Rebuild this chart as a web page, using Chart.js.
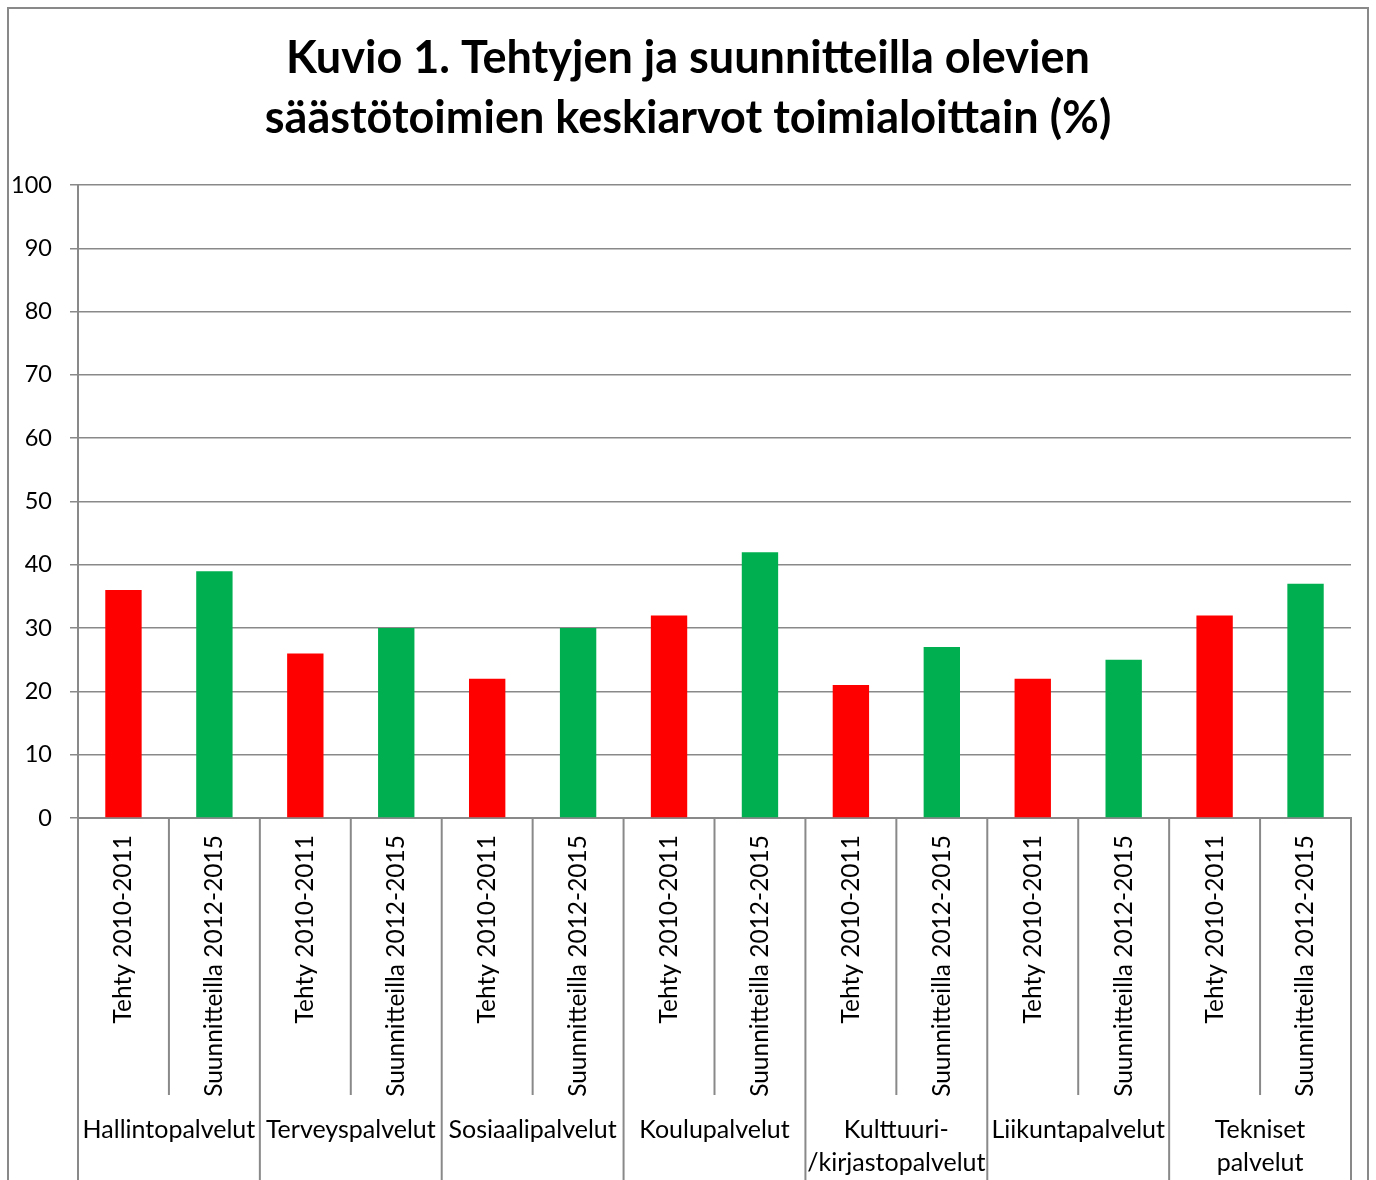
<!DOCTYPE html>
<html lang="fi">
<head>
<meta charset="utf-8">
<title>Kuvio 1</title>
<script src="https://cdn.jsdelivr.net/npm/chart.js@4"></script>
<style>
  html, body { margin: 0; padding: 0; background: #fff; }
  #wrap { width: 1376px; height: 1180px; position: relative; }
</style>
</head>
<body>
<div id="wrap"><canvas id="c" width="1376" height="1180"></canvas></div>
<script>
const titleLines = ['Kuvio 1. Tehtyjen ja suunnitteilla olevien', 'säästötoimien keskiarvot toimialoittain (%)'];
const periods = ['Tehty 2010-2011', 'Suunnitteilla 2012-2015'];
const groups = [
  ['Hallintopalvelut'],
  ['Terveyspalvelut'],
  ['Sosiaalipalvelut'],
  ['Koulupalvelut'],
  ['Kulttuuri-', '/kirjastopalvelut'],
  ['Liikuntapalvelut'],
  ['Tekniset', 'palvelut']
];
const tehty = [36, 26, 22, 32, 21, 22, 32];
const suunnitteilla = [39, 30, 30, 42, 27, 25, 37];
const yTicks = [0, 10, 20, 30, 40, 50, 60, 70, 80, 90, 100];

const labels = [];
const values = [];
const colors = [];
groups.forEach((g, i) => {
  labels.push(periods[0]); values.push(tehty[i]); colors.push('#FF0000');
  labels.push(periods[1]); values.push(suunnitteilla[i]); colors.push('#00B050');
});

const FONT = 'Lato, "Noto Sans", sans-serif';
const LINE = '#898989';

const framePlugin = {
  id: 'frame',
  afterLayout(chart) {
    // centre the title over the whole canvas, like the original
    if (chart.titleBlock) chart.titleBlock.right = chart.width;
  },
  beforeDraw(chart) {
    const ctx = chart.ctx;
    ctx.save();
    ctx.fillStyle = '#fff';
    ctx.fillRect(0, 0, chart.width, chart.height);
    ctx.strokeStyle = LINE;
    ctx.lineWidth = 2;
    ctx.strokeRect(8, 8, 1360, 1300);
    ctx.restore();
  }
};

const groupPlugin = {
  id: 'groupAxis',
  afterDraw(chart) {
    const ctx = chart.ctx;
    const x = chart.scales.x;
    const n = labels.length;
    const cw = (x.right - x.left) / n;
    const top = x.top;
    ctx.save();
    ctx.strokeStyle = LINE;
    ctx.lineWidth = 2;
    for (let k = 0; k <= n; k++) {
      const px = x.getPixelForValue(Math.min(k, n - 1)) + (k === n ? cw / 2 : -cw / 2);
      const bottom = (k % 2 === 0) ? chart.height : 1095;
      ctx.beginPath();
      ctx.moveTo(px, top);
      ctx.lineTo(px, bottom);
      ctx.stroke();
    }
    ctx.fillStyle = '#000';
    ctx.font = '25px ' + FONT;
    ctx.textAlign = 'center';
    ctx.textBaseline = 'middle';
    groups.forEach((g, i) => {
      const cx = (x.getPixelForValue(2 * i) + x.getPixelForValue(2 * i + 1)) / 2;
      g.forEach((line, j) => {
        ctx.fillText(line, cx, 1130 + j * 33);
      });
    });
    ctx.restore();
  }
};

new Chart(document.getElementById('c'), {
  type: 'bar',
  data: {
    labels: labels,
    datasets: [{
      data: values,
      backgroundColor: colors,
      borderWidth: 0,
      barPercentage: 0.4,
      categoryPercentage: 1.0
    }]
  },
  options: {
    responsive: false,
    animation: false,
    devicePixelRatio: 1,
    layout: { padding: { left: 0, right: 25, top: 0, bottom: 0 } },
    plugins: {
      legend: { display: false },
      tooltip: { enabled: false },
      title: {
        display: true,
        text: titleLines,
        color: '#000',
        font: { family: FONT, size: 45, weight: 'bold', lineHeight: 1.3333 },
        padding: { top: 28, bottom: 37 }
      }
    },
    scales: {
      x: {
        grid: { display: false },
        border: { display: true, color: LINE, width: 2 },
        ticks: {
          autoSkip: false,
          minRotation: 90,
          maxRotation: 90,
          padding: 9,
          color: '#000',
          font: { family: FONT, size: 24.5 }
        },
        afterFit(s) { s.height = 362; }
      },
      y: {
        min: 0,
        max: 100,
        afterBuildTicks(s) { s.ticks = yTicks.map(v => ({ value: v })); },
        grid: { color: LINE, lineWidth: 1.5, tickLength: 8, drawTicks: true },
        border: { display: true, color: LINE, width: 2 },
        ticks: {
          padding: 18,
          color: '#000',
          font: { family: FONT, size: 23.5 }
        },
        afterFit(s) { s.width = 78; }
      }
    }
  },
  plugins: [framePlugin, groupPlugin]
});
</script>
</body>
</html>
